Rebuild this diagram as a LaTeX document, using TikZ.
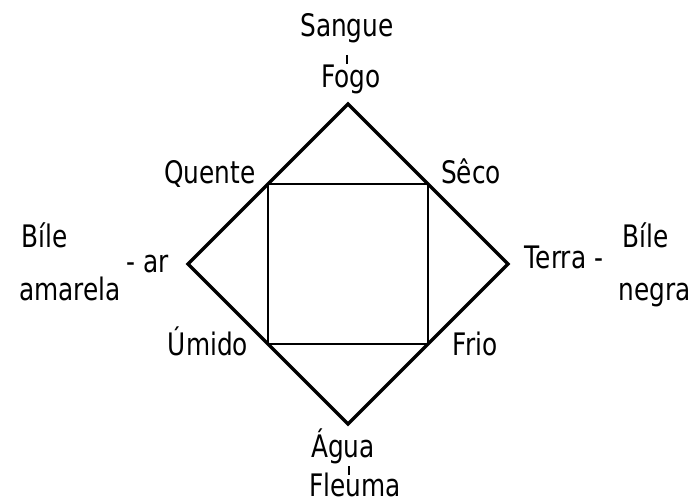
\documentclass[tikz,border=0pt]{standalone}
\usepackage{fontspec}
\newfontfamily\handfont[FakeStretch=0.8]{DejaVu Sans}
\begin{document}
\begin{tikzpicture}[x=1pt,y=-1pt,
  lbl/.style={inner sep=0pt,anchor=base,font=\handfont\fontsize{31}{33}\selectfont},
  outer/.style={line width=3.4pt,line join=miter},
  inner/.style={line width=2.4pt},
  tick/.style={line width=2pt}]
\useasboundingbox (0,0) rectangle (697,503);
% diamond vertices
\coordinate (T) at (348,104);
\coordinate (R) at (508,264);
\coordinate (B) at (348,424);
\coordinate (L) at (188,264);
% square corners (midpoints)
\coordinate (QTL) at (268,184);
\coordinate (QTR) at (428,184);
\coordinate (QBR) at (428,344);
\coordinate (QBL) at (268,344);
\draw[inner] (QTL) -- (QTR) -- (QBR) -- (QBL) -- cycle;
\draw[outer] (T) -- (R) -- (B) -- (L) -- cycle;
% labels
\node[lbl] (sangue) at (347,37) {Sangue};
\node[lbl] (fogo) at (351,88) {Fogo};
\node[lbl] (quente) at (210,183) {Quente};
\node[lbl] (seco) at (471,183) {Sêco};
\node[lbl] (umido) at (208,355) {Úmido};
\node[lbl] (frio) at (475,355) {Frio};
\node[lbl] (bileL) at (45,247) {Bíle};
\node[lbl] (amarela) at (70,300) {amarela};
\node[lbl] (ar) at (148,272) {- ar};
\node[lbl] (terra) at (564,268) {Terra -};
\node[lbl] (bileR) at (646,247) {Bíle};
\node[lbl] (negra) at (655,300) {negra};
\node[lbl] (agua) at (343,457) {Água};
\node[lbl,text depth=0pt] (fleuma) at (355,496) {Fleuma};
% ticks
\coordinate (t1a) at (347,55);
\coordinate (t1b) at (347,64);
\coordinate (t2a) at (349,466);
\coordinate (t2b) at (349,475);
\draw[tick] (t1a) -- (t1b);
\draw[tick] (t2a) -- (t2b);
\end{tikzpicture}
\end{document}
